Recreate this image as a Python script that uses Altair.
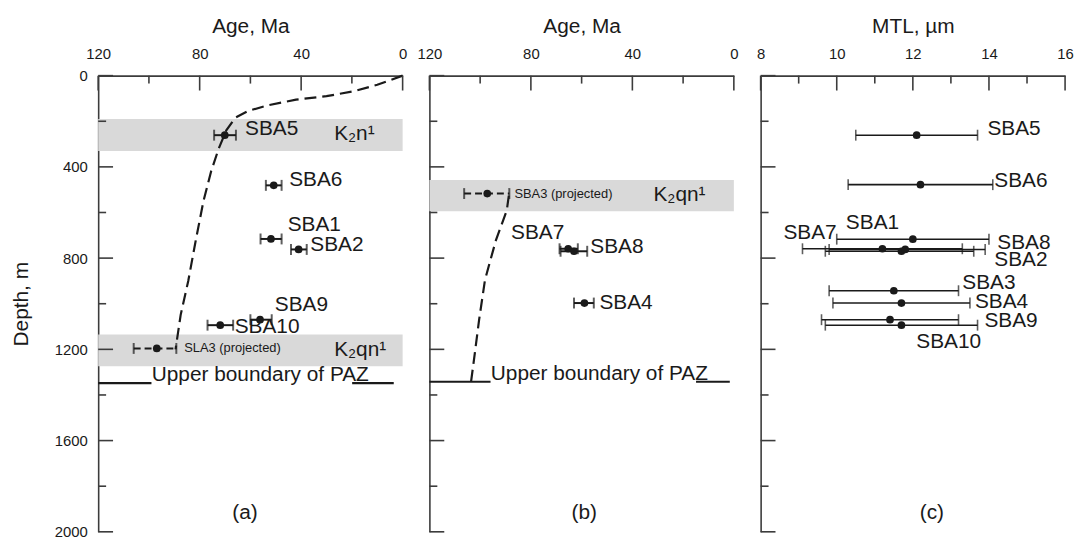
import altair as alt
import pandas as pd

FONT = "Liberation Sans"
INK = "#1a1a1a"
AXC = "#3c3c3c"
W, H = 307, 460
LAB = 21

# ---------------- data ----------------
# Panel (a): AFT ages vs depth
a_names = ["SBA5", "SBA6", "SBA1", "SBA2", "SBA9", "SBA10"]
a_age = [70.1, 50.8, 51.9, 41.0, 56.2, 71.9]
a_age_old = [74.3, 53.9, 56.0, 44.0, 60.0, 76.9]
a_age_young = [65.7, 47.7, 47.7, 37.8, 51.6, 66.8]
a_depth = [261, 481, 716, 762, 1070, 1094]
a_lab_age = [62.1, 44.7, 45.3, 36.4, 50.4, 66.2]
a_lab_depth = [235, 457, 657, 743, 1004, 1104]

a_proj_name = ["SLA3 (projected)"]
a_proj_age = [96.9]
a_proj_old = [106.0]
a_proj_young = [89.2]
a_proj_depth = [1196]
a_proj_lab_age = [86.1]
a_proj_lab_depth = [1196]

a_curve_age = [0, 10, 19, 30, 42, 53, 61, 66, 69.5, 72.5, 75.5, 78.5, 81.5, 84.5, 87.5, 89.5]
a_curve_depth = [0, 40, 68, 90, 105, 130, 155, 185, 240, 320, 420, 550, 720, 900, 1050, 1200]

a_band_top = [190, 1135]
a_band_bottom = [330, 1274]
a_band_label = ["K\u2082n\u00b9", "K\u2082qn\u00b9"]
a_band_lab_age = [27, 27]
a_band_lab_depth = [255, 1205]

a_paz_depth = 1348
a_paz_seg_from = [120, 19.9]
a_paz_seg_to = [99.0, 3.5]
a_paz_text_age = 98.9

# Panel (b)
b_names = ["SBA7", "SBA8", "SBA4"]
b_age = [65.3, 63.0, 58.9]
b_age_old = [68.7, 68.3, 63.0]
b_age_young = [61.5, 57.8, 55.2]
b_depth = [759, 770, 997]
b_lab_age = [87.8, 56.6, 53.0]
b_lab_depth = [691, 752, 996]

b_proj_name = ["SBA3 (projected)"]
b_proj_age = [97.2]
b_proj_old = [106.3]
b_proj_young = [88.5]
b_proj_depth = [517]
b_proj_lab_age = [86.5]
b_proj_lab_depth = [517]

b_curve_age = [88.7, 89.5, 93.8, 98.1, 100.4, 102.4, 103.6]
b_curve_depth = [526, 591, 722, 896, 1070, 1243, 1343]

b_band_top = [457]
b_band_bottom = [594]
b_band_label = ["K\u2082qn\u00b9"]
b_band_lab_age = [31.7]
b_band_lab_depth = [525]

b_paz_depth = 1342
b_paz_seg_from = [120, 14.9]
b_paz_seg_to = [95.9, 1.6]
b_paz_text_age = 95.8

# Panel (c): mean track length
c_names = ["SBA5", "SBA6", "SBA1", "SBA7", "SBA8", "SBA2", "SBA3", "SBA4", "SBA9", "SBA10"]
c_mtl = [12.1, 12.2, 12.0, 11.2, 11.7, 11.8, 11.5, 11.7, 11.4, 11.7]
c_lo = [10.5, 10.3, 10.0, 9.1, 9.7, 9.8, 9.8, 9.9, 9.6, 9.7]
c_hi = [13.7, 14.1, 14.0, 13.3, 13.6, 13.9, 13.2, 13.5, 13.2, 13.7]
c_depth = [261, 478, 717, 759, 770, 762, 943, 997, 1070, 1094]
c_lab_x = [13.96, 14.14, 10.24, 8.6, 14.22, 14.14, 13.3, 13.63, 13.88, 12.09]
c_lab_depth = [235, 461, 648, 691, 735, 809, 909, 991, 1078, 1170]

# axes
age_major = [120, 80, 40, 0]
age_minor = [100, 60, 20]
mtl_major = [8, 10, 12, 14, 16]
mtl_minor = [9, 11, 13, 15]
depth_major = [0, 400, 800, 1200, 1600, 2000]
depth_minor = [200, 600, 1000, 1400, 1800]

panel_tags = ["(a)", "(b)", "(c)"]
tag_x = [62.1, 59.0, 12.5]
tag_depth = [1917, 1917, 1917]

# ---------------- scales / axes ----------------
age_scale = alt.Scale(domain=[0, 120], reverse=True, nice=False, zero=False)
mtl_scale = alt.Scale(domain=[8, 16], nice=False, zero=False)
depth_scale = alt.Scale(domain=[0, 2000], reverse=True, nice=False)


def xaxis(title, values):
    return alt.Axis(orient="top", values=values, ticks=False, grid=False, title=title,
                    labelFont=FONT, titleFont=FONT, labelFontSize=15, titleFontSize=LAB,
                    labelColor=INK, titleColor=INK, titleFontWeight="normal",
                    labelPadding=14, titlePadding=10, labelFlush=False, format="d",
                    domainColor=AXC, domainWidth=1.6)


def yaxis(show):
    if show:
        return alt.Axis(values=depth_major, ticks=False, grid=False, title="Depth, m",
                        labelFont=FONT, titleFont=FONT, labelFontSize=15, titleFontSize=LAB,
                        labelColor=INK, titleColor=INK, titleFontWeight="normal",
                        labelPadding=11, titlePadding=23, labelFlush=False, format="d",
                        domainColor=AXC, domainWidth=1.6)
    return alt.Axis(values=depth_major, ticks=False, grid=False, labels=False, title="",
                    domainColor=AXC, domainWidth=1.6)


def panel(xscale, xax, yax, xmaj, xmin, layers_fn):
    def X(f):
        return alt.X(f, type="quantitative", scale=xscale, axis=xax)

    def Y(f):
        return alt.Y(f, type="quantitative", scale=depth_scale, axis=yax)

    layers = layers_fn(X, Y)
    ticks = []
    for vals, ln in ((xmaj, 15), (xmin, 8)):
        ticks.append(alt.Chart(pd.DataFrame({"v": vals})).mark_rule(color=AXC, strokeWidth=1.6)
                     .encode(x=X("v"), y=alt.value(0), y2=alt.value(ln)))
    for vals, ln in ((depth_major, 15), (depth_minor, 8)):
        ticks.append(alt.Chart(pd.DataFrame({"v": vals})).mark_rule(color=AXC, strokeWidth=1.6)
                     .encode(y=Y("v"), x=alt.value(0), x2=alt.value(ln)))
    return alt.layer(*layers, *ticks).properties(width=W, height=H)


def bands(X, Y, top, bottom):
    df = pd.DataFrame({"top": top, "bottom": bottom, "a0": [120] * len(top), "a1": [0] * len(top)})
    return alt.Chart(df).mark_rect(color="#d9d9d9").encode(
        x=X("a0"), x2="a1", y=Y("top"), y2="bottom")


def texts(X, Y, xs, ys, labels, size=LAB, align="left", baseline="middle"):
    df = pd.DataFrame({"x": xs, "y": ys, "t": labels})
    return alt.Chart(df).mark_text(font=FONT, fontSize=size, color=INK, align=align,
                                   baseline=baseline).encode(x=X("x"), y=Y("y"), text="t:N")


def errbars(X, Y, names, val, lo, hi, depth, dash=None, sw=2.0, cap=11):
    df = pd.DataFrame({"n": names, "v": val, "lo": lo, "hi": hi, "d": depth})
    rule_kw = dict(color=INK, strokeWidth=sw)
    if dash:
        rule_kw["strokeDash"] = dash
    base = alt.Chart(df)
    rule = base.mark_rule(**rule_kw).encode(x=X("lo"), x2="hi", y=Y("d"))
    cap1 = base.mark_tick(color=INK, orient="vertical", size=cap, thickness=sw).encode(x=X("lo"), y=Y("d"))
    cap2 = base.mark_tick(color=INK, orient="vertical", size=cap, thickness=sw).encode(x=X("hi"), y=Y("d"))
    pts = base.mark_circle(color=INK, opacity=1, size=60).encode(x=X("v"), y=Y("d"))
    return [rule, cap1, cap2, pts]


def curve(X, Y, ages, depths):
    df = pd.DataFrame({"a": ages, "d": depths, "i": list(range(len(ages)))})
    return alt.Chart(df).mark_line(color=INK, strokeWidth=2.2, strokeDash=[12, 6]).encode(
        x=X("a"), y=Y("d"), order="i:Q")


def paz(X, Y, depth, seg_from, seg_to, text_age):
    df = pd.DataFrame({"a0": seg_from, "a1": seg_to, "d": [depth] * len(seg_from)})
    segs = alt.Chart(df).mark_rule(color=INK, strokeWidth=2.2).encode(x=X("a0"), x2="a1", y=Y("d"))
    txt = texts(X, Y, [text_age], [depth - 8], ["Upper boundary of PAZ"], baseline="alphabetic")
    return [segs, txt]


def layers_a(X, Y):
    L = [bands(X, Y, a_band_top, a_band_bottom)]
    L.append(texts(X, Y, a_band_lab_age, a_band_lab_depth, a_band_label))
    L += paz(X, Y, a_paz_depth, a_paz_seg_from, a_paz_seg_to, a_paz_text_age)
    L.append(curve(X, Y, a_curve_age, a_curve_depth))
    L += errbars(X, Y, a_names, a_age, a_age_old, a_age_young, a_depth)
    L += errbars(X, Y, a_proj_name, a_proj_age, a_proj_old, a_proj_young, a_proj_depth, dash=[7, 4])
    L.append(texts(X, Y, a_lab_age, a_lab_depth, a_names))
    L.append(texts(X, Y, a_proj_lab_age, a_proj_lab_depth, a_proj_name, size=13))
    L.append(texts(X, Y, [tag_x[0]], [tag_depth[0]], [panel_tags[0]], align="center"))
    return L


def layers_b(X, Y):
    L = [bands(X, Y, b_band_top, b_band_bottom)]
    L.append(texts(X, Y, b_band_lab_age, b_band_lab_depth, b_band_label))
    L += paz(X, Y, b_paz_depth, b_paz_seg_from, b_paz_seg_to, b_paz_text_age)
    L.append(curve(X, Y, b_curve_age, b_curve_depth))
    L += errbars(X, Y, b_names, b_age, b_age_old, b_age_young, b_depth)
    L += errbars(X, Y, b_proj_name, b_proj_age, b_proj_old, b_proj_young, b_proj_depth, dash=[7, 4])
    L.append(texts(X, Y, b_lab_age, b_lab_depth, b_names))
    L.append(texts(X, Y, b_proj_lab_age, b_proj_lab_depth, b_proj_name, size=13))
    L.append(texts(X, Y, [tag_x[1]], [tag_depth[1]], [panel_tags[1]], align="center"))
    return L


def layers_c(X, Y):
    L = errbars(X, Y, c_names, c_mtl, c_lo, c_hi, c_depth, sw=1.6, cap=11)
    L.append(texts(X, Y, c_lab_x, c_lab_depth, c_names))
    L.append(texts(X, Y, [tag_x[2]], [tag_depth[2]], [panel_tags[2]], align="center"))
    return L


pa = panel(age_scale, xaxis("Age, Ma", age_major), yaxis(True), age_major, age_minor, layers_a)
pb = panel(age_scale, xaxis("Age, Ma", age_major), yaxis(False), age_major, age_minor, layers_b)
pc = panel(mtl_scale, xaxis("MTL, \u00b5m", mtl_major), yaxis(False), mtl_major, mtl_minor, layers_c)

chart = alt.hconcat(pa, pb, pc, spacing=27, bounds="flush").properties(
    padding={"left": 10, "top": 13, "right": 0, "bottom": 0}
).configure_view(stroke="transparent")

chart.save("out.html", embed_options={"renderer": "svg", "actions": False})
